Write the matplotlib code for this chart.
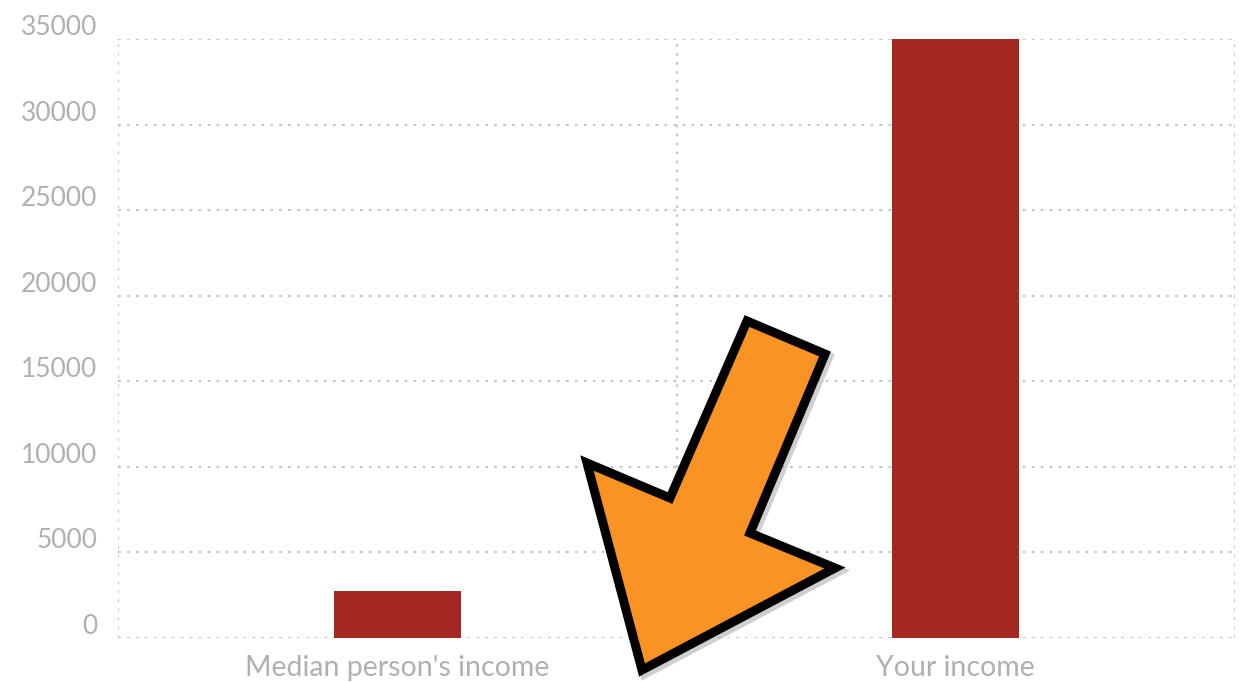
import matplotlib.pyplot as plt
import matplotlib.transforms as mtransforms
from matplotlib.patches import Polygon

# --- Datos ---
categorias = ["Median person's income", "Your income"]
ingresos = [2750, 35000]
marcas_y = [0, 5000, 10000, 15000, 20000, 25000, 30000, 35000]

color_barra = "#a62621"
color_gris = "#b0b0b0"
color_grid = "#c6c6c6"

plt.rcParams['font.family'] = ['Lato', 'DejaVu Sans']

fig = plt.figure(figsize=(12.47, 6.82), dpi=100)
ax = fig.add_axes([118 / 1247, 1 - 638 / 682, (1235 - 118) / 1247, (638 - 39) / 682])

x = list(range(len(categorias)))
ax.bar(x, ingresos, width=0.227, color=color_barra, zorder=3)

ax.set_xlim(-0.5, len(categorias) - 0.5)
ax.set_ylim(0, 35000)
ax.set_yticks(marcas_y)
ax.set_yticklabels([str(v) for v in marcas_y])
ax.set_xticks(x)
ax.set_xticklabels(categorias)
ax.set_xticks([i - 0.5 for i in range(len(categorias) + 1)], minor=True)

# --- Rejilla punteada ---
estilo = dict(color=color_grid, linestyle=(0, (1.3, 3.0)), linewidth=1.5)
ax.grid(axis='y', which='major', **estilo)
ax.grid(axis='x', which='minor', **estilo)
ax.set_axisbelow(True)
for s in ax.spines.values():
    s.set_visible(False)

ax.tick_params(axis='both', which='both', length=0, colors=color_gris, labelsize=19)
ax.tick_params(axis='y', pad=15)
ax.tick_params(axis='x', pad=12, labelsize=20.5)

# etiquetas del eje y un poco por encima de la linea
desplaz = mtransforms.ScaledTranslation(0, 14 / 100, fig.dpi_scale_trans)
for etiqueta in ax.get_yticklabels():
    etiqueta.set_transform(etiqueta.get_transform() + desplaz)

# --- Flecha naranja ---
puntos = [(747, 321), (825, 354), (750, 533), (835, 568),
          (642, 670), (587, 463), (670, 498)]
puntos_fig = [(px / 1247, 1 - py / 682) for px, py in puntos]
sombra = [(px + 3 / 1247, py - 3 / 682) for px, py in puntos_fig]
fig.patches.append(Polygon(sombra, closed=True, transform=fig.transFigure,
                           facecolor='#00000030', edgecolor='#00000030',
                           linewidth=7.5, joinstyle='miter'))
fig.patches.append(Polygon(puntos_fig, closed=True, transform=fig.transFigure,
                           facecolor='#f99324', edgecolor='black',
                           linewidth=6.5, joinstyle='miter'))

plt.savefig("out.png", dpi=100)
